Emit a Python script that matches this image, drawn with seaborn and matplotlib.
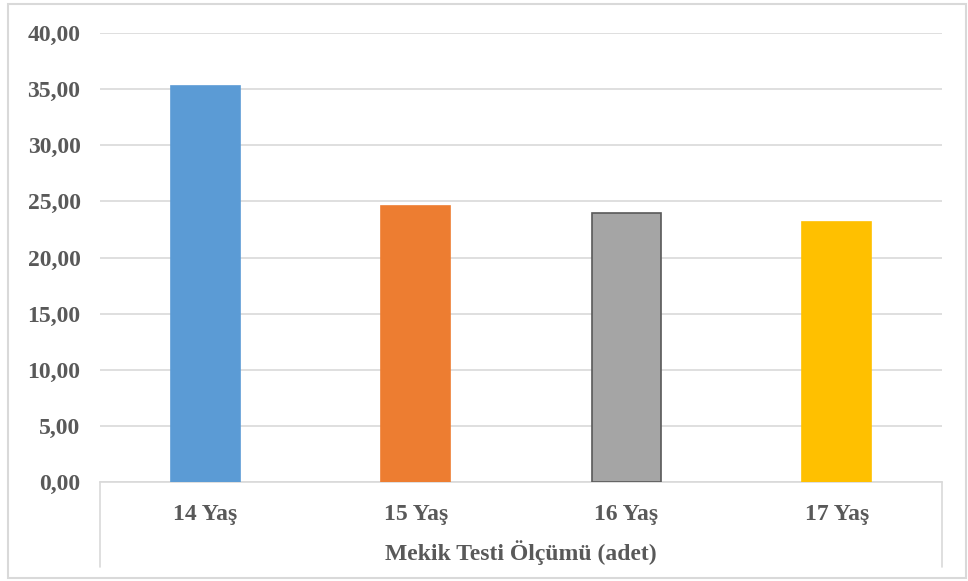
import matplotlib
matplotlib.use("Agg")
import matplotlib.pyplot as plt
import seaborn as sns
import pandas as pd
from matplotlib.patches import Rectangle
from matplotlib.ticker import FuncFormatter, MultipleLocator

categories = ["14 Yaş", "15 Yaş", "16 Yaş", "17 Yaş"]
values = [35.25, 24.6, 24.0, 23.2]
colors = ["#5B9BD5", "#ED7D31", "#A5A5A5", "#FFC000"]
edge_colors = ["#5B9BD5", "#ED7D31", "#595959", "#FFC000"]
x_title = "Mekik Testi Ölçümü (adet)"

sns.set_theme(style="white")
plt.rcParams["font.family"] = ["Liberation Serif", "DejaVu Serif"]

W, H = 968, 581
fig = plt.figure(figsize=(W / 100, H / 100), dpi=100)
ax = fig.add_axes([100 / W, (H - 482) / H, 842 / W, 449 / H])

df = pd.DataFrame({"cat": categories, "val": values})
sns.barplot(data=df, x="cat", y="val", hue="cat", palette=colors,
            saturation=1, width=0.33, legend=False, ax=ax, zorder=3)
for patch, ec in zip(ax.patches, edge_colors):
    patch.set_edgecolor(ec)
    patch.set_linewidth(1.2)

text_color = "#595959"
grid_color = "#D9D9D9"
fsize = 17

ax.set_ylim(0, 40)
ax.set_xlim(-0.5, len(categories) - 0.5)
ax.yaxis.set_major_locator(MultipleLocator(5))
ax.yaxis.set_major_formatter(FuncFormatter(lambda v, p: f"{v:.2f}".replace(".", ",")))
ax.grid(axis="y", color=grid_color, linewidth=1.2, zorder=0)
ax.grid(axis="x", visible=False)

for s in ["top", "right", "left"]:
    ax.spines[s].set_visible(False)
ax.spines["bottom"].set_color(grid_color)
ax.spines["bottom"].set_linewidth(1.2)

ax.tick_params(axis="both", length=0, colors=text_color, labelsize=fsize)
ax.tick_params(axis="x", pad=15.5)
ax.tick_params(axis="y", pad=14)
for lab in ax.get_xticklabels() + ax.get_yticklabels():
    lab.set_fontweight("bold")
    lab.set_color(text_color)

ax.set_ylabel("")
ax.set_xlabel(x_title, fontsize=fsize, fontweight="bold", color=text_color, labelpad=11)

# category axis frame extending below the baseline
depth = 85 / 449
for xa in (0, 1):
    ax.plot([xa, xa], [0, -depth], transform=ax.transAxes, color=grid_color,
            linewidth=1.2, clip_on=False)

# outer chart border
fig.patches.append(Rectangle((8 / W, 3 / H), (W - 10) / W, (H - 7) / H,
                             transform=fig.transFigure, fill=False,
                             edgecolor="#D9D9D9", linewidth=1.5))

fig.savefig("out.png", dpi=100)
